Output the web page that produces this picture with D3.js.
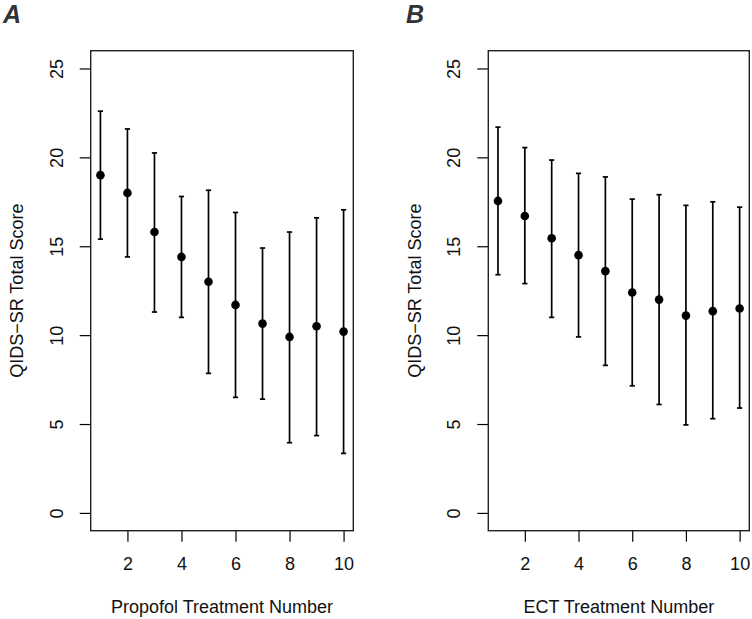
<!DOCTYPE html>
<html>
<head>
<meta charset="utf-8">
<script src="https://cdn.jsdelivr.net/npm/d3@7"></script>
<style>
  html, body { margin: 0; padding: 0; background: #fff; }
  svg { display: block; font-family: "Liberation Sans", Arial, Helvetica, sans-serif; }
</style>
</head>
<body>
<svg id="chart" width="752" height="619"></svg>
<script>
// ---- Data ----
const treatments = [1, 2, 3, 4, 5, 6, 7, 8, 9, 10];
const xTickValues = [2, 4, 6, 8, 10];
const yTickValues = [0, 5, 10, 15, 20, 25];

const propofolMean  = [19.0, 18.0, 15.8, 14.4, 13.0, 11.7, 10.65, 9.9, 10.5, 10.2];
const propofolUpper = [22.6, 21.6, 20.25, 17.8, 18.15, 16.9, 14.9, 15.8, 16.6, 17.05];
const propofolLower = [15.4, 14.4, 11.3, 11.0, 7.85, 6.5, 6.4, 3.95, 4.35, 3.35];

const ectMean  = [17.55, 16.7, 15.45, 14.5, 13.6, 12.4, 12.0, 11.1, 11.35, 11.5];
const ectUpper = [21.7, 20.55, 19.85, 19.1, 18.9, 17.65, 17.9, 17.3, 17.5, 17.2];
const ectLower = [13.4, 12.9, 11.0, 9.9, 8.3, 7.15, 6.1, 4.95, 5.3, 5.9];

const panels = [
  { letter: "A", xTitle: "Propofol Treatment Number", mean: propofolMean, upper: propofolUpper, lower: propofolLower,
    left: 90.7, right: 353.3, letterX: 3 },
  { letter: "B", xTitle: "ECT Treatment Number", mean: ectMean, upper: ectUpper, lower: ectLower,
    left: 488.3, right: 749.3, letterX: 406 }
];

const plotTop = 50.7, plotBottom = 530.7;
const svg = d3.select("#chart");
const ink = "#000";
const fontSize = 18;

panels.forEach(p => {
  const x = d3.scaleLinear().domain([0.64, 10.36]).range([p.left, p.right]);
  const y = d3.scaleLinear().domain([-1, 26]).range([plotBottom, plotTop]);
  const g = svg.append("g");

  // y axis
  const yAxis = g.append("g")
    .attr("transform", `translate(${p.left},0)`)
    .call(d3.axisLeft(y).tickValues(yTickValues).tickSize(11).tickFormat(d3.format("d")));
  yAxis.select(".domain").remove();
  yAxis.selectAll(".tick line").attr("stroke", ink).attr("stroke-width", 1.2);
  yAxis.selectAll(".tick text")
    .attr("transform", "rotate(-90)")
    .attr("x", 0).attr("y", -28).attr("dy", 0)
    .attr("text-anchor", "middle")
    .attr("font-size", fontSize)
    .attr("font-family", "Liberation Sans, Arial, sans-serif")
    .attr("fill", "#111");

  // x axis
  const xAxis = g.append("g")
    .attr("transform", `translate(0,${plotBottom})`)
    .call(d3.axisBottom(x).tickValues(xTickValues).tickSize(11).tickFormat(d3.format("d")));
  xAxis.select(".domain").remove();
  xAxis.selectAll(".tick line").attr("stroke", ink).attr("stroke-width", 1.2);
  xAxis.selectAll(".tick text")
    .attr("y", 39.5).attr("dy", 0)
    .attr("font-size", fontSize)
    .attr("font-family", "Liberation Sans, Arial, sans-serif")
    .attr("fill", "#111");

  // box
  g.append("rect")
    .attr("x", p.left).attr("y", plotTop)
    .attr("width", p.right - p.left).attr("height", plotBottom - plotTop)
    .attr("fill", "none").attr("stroke", "#222").attr("stroke-width", 1.4);

  // error bars
  const rows = treatments.map((t, i) => ({ t, m: p.mean[i], hi: p.upper[i], lo: p.lower[i] }));
  g.selectAll(".bar").data(rows).enter().append("line")
    .attr("x1", d => x(d.t)).attr("x2", d => x(d.t))
    .attr("y1", d => y(d.hi)).attr("y2", d => y(d.lo))
    .attr("stroke", ink).attr("stroke-width", 1.7);
  g.selectAll(".capHi").data(rows).enter().append("line")
    .attr("x1", d => x(d.t) - 2.6).attr("x2", d => x(d.t) + 2.6)
    .attr("y1", d => y(d.hi)).attr("y2", d => y(d.hi))
    .attr("stroke", ink).attr("stroke-width", 1.7);
  g.selectAll(".capLo").data(rows).enter().append("line")
    .attr("x1", d => x(d.t) - 2.6).attr("x2", d => x(d.t) + 2.6)
    .attr("y1", d => y(d.lo)).attr("y2", d => y(d.lo))
    .attr("stroke", ink).attr("stroke-width", 1.7);
  g.selectAll(".pt").data(rows).enter().append("circle")
    .attr("cx", d => x(d.t)).attr("cy", d => y(d.m))
    .attr("r", 4.3).attr("fill", ink);

  // titles
  g.append("text")
    .attr("x", (p.left + p.right) / 2).attr("y", 613)
    .attr("text-anchor", "middle").attr("font-size", fontSize).attr("fill", "#111")
    .text(p.xTitle);
  g.append("text")
    .attr("transform", `translate(${p.left - 67.5},${(plotTop + plotBottom) / 2}) rotate(-90)`)
    .attr("text-anchor", "middle").attr("font-size", fontSize).attr("fill", "#111")
    .text("QIDS\u2212SR Total Score");

  // panel letter
  g.append("text")
    .attr("x", p.letterX).attr("y", 23)
    .attr("font-size", 25).attr("font-weight", "bold").attr("font-style", "italic")
    .attr("fill", "#333")
    .text(p.letter);
});
</script>
</body>
</html>
